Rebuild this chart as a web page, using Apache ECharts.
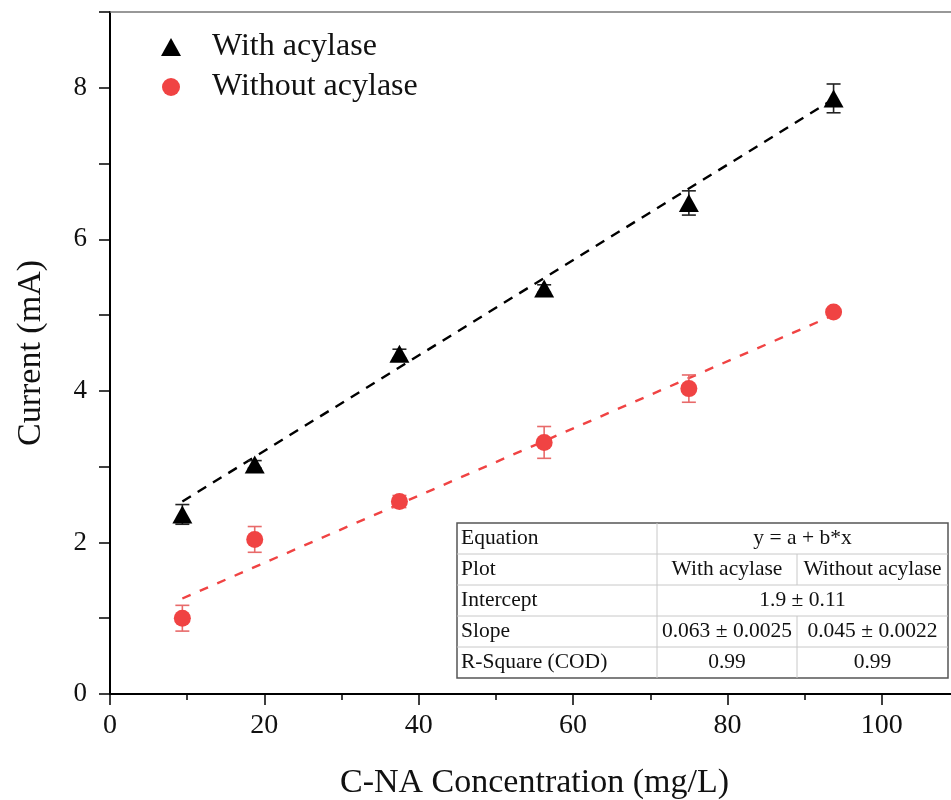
<!DOCTYPE html>
<html>
<head>
<meta charset="utf-8">
<script src="https://cdn.jsdelivr.net/npm/echarts@6/dist/echarts.min.js"></script>
<style>
  html, body { margin: 0; padding: 0; background: #fff; }
  #chart { width: 951px; height: 800px; }
</style>
</head>
<body>
<div id="chart"></div>
<script>
  // C-NA concentrations (mg/L)
  const conc = [9.375, 18.75, 37.5, 56.25, 75, 93.75];
  // current (mA) and error
  const withAcylase = [2.37, 3.03, 4.49, 5.35, 6.48, 7.86];
  const withErr = [0.13, 0.05, 0.06, 0.05, 0.16, 0.19];
  const withoutAcylase = [1.0, 2.04, 2.54, 3.32, 4.03, 5.04];
  const withoutErr = [0.17, 0.17, 0.08, 0.21, 0.18, 0.03];
  // linear fit end points
  const fitWith = [[9.375, 2.54], [93.75, 7.85]];
  const fitWithout = [[9.375, 1.26], [93.75, 5.0]];

  const tableRows = [
    ['Equation', 'y = a + b*x'],
    ['Plot', 'With acylase', 'Without acylase'],
    ['Intercept', '1.9 ± 0.11'],
    ['Slope', '0.063 ± 0.0025', '0.045 ± 0.0022'],
    ['R-Square (COD)', '0.99', '0.99']
  ];

  const serif = '"Liberation Serif", "Times New Roman", serif';
  const black = '#000';
  const red = '#f04343';

  const chart = echarts.init(document.getElementById('chart'));

  const pairs = (xs, ys) => xs.map((x, i) => [x, ys[i]]);
  const errData = (xs, ys, es) => xs.map((x, i) => [x, ys[i] - es[i], ys[i] + es[i]]);

  const errorBars = (color) => function (params, api) {
    const x = api.value(0);
    const lo = api.coord([x, api.value(1)]);
    const hi = api.coord([x, api.value(2)]);
    const w = 7;
    const style = { stroke: color, lineWidth: 1.6 };
    return {
      type: 'group',
      children: [
        { type: 'line', shape: { x1: lo[0], y1: lo[1], x2: hi[0], y2: hi[1] }, style: style },
        { type: 'line', shape: { x1: lo[0] - w, y1: lo[1], x2: lo[0] + w, y2: lo[1] }, style: style },
        { type: 'line', shape: { x1: hi[0] - w, y1: hi[1], x2: hi[0] + w, y2: hi[1] }, style: style }
      ]
    };
  };

  // table drawn as graphic elements
  const tLeft = 457, tTop = 523, tRight = 948, rowH = 31;
  const col1 = 657, col2 = 797;
  const tBottom = tTop + rowH * tableRows.length;
  const table = [];
  table.push({ type: 'rect', shape: { x: tLeft, y: tTop, width: tRight - tLeft, height: tBottom - tTop },
    style: { fill: '#fff', stroke: '#555', lineWidth: 1.5 }, z: 100 });
  for (let r = 1; r < tableRows.length; r++) {
    table.push({ type: 'line', shape: { x1: tLeft, y1: tTop + r * rowH, x2: tRight, y2: tTop + r * rowH },
      style: { stroke: '#c8c8c8', lineWidth: 1 }, z: 101 });
  }
  table.push({ type: 'line', shape: { x1: col1, y1: tTop, x2: col1, y2: tBottom },
    style: { stroke: '#c8c8c8', lineWidth: 1 }, z: 101 });
  tableRows.forEach((row, r) => {
    const cy = tTop + r * rowH + rowH / 2;
    if (row.length === 3) {
      table.push({ type: 'line', shape: { x1: col2, y1: tTop + r * rowH, x2: col2, y2: tTop + (r + 1) * rowH },
        style: { stroke: '#c8c8c8', lineWidth: 1 }, z: 101 });
    }
    const cell = (t, x, align) => ({ type: 'text', x: x, y: cy, z: 102,
      style: { text: t, font: '21.5px ' + serif, fill: '#111', align: align, verticalAlign: 'middle' } });
    table.push(cell(row[0], tLeft + 4, 'left'));
    if (row.length === 2) {
      table.push(cell(row[1], (col1 + tRight) / 2, 'center'));
    } else {
      table.push(cell(row[1], (col1 + col2) / 2, 'center'));
      table.push(cell(row[2], (col2 + tRight) / 2, 'center'));
    }
  });

  const option = {
    animation: false,
    backgroundColor: '#fff',
    grid: { left: 110, top: 12, width: 849, bottom: 106, containLabel: false, outerBoundsMode: 'none' },
    legend: {
      data: ['With acylase', 'Without acylase'],
      orient: 'vertical',
      left: 156,
      top: 26,
      itemWidth: 20,
      itemHeight: 18,
      itemGap: 8,
      textStyle: { fontFamily: serif, fontSize: 32, color: '#111', padding: [0, 0, 0, 26] }
    },
    xAxis: [{
      type: 'value',
      min: 0,
      max: 110,
      interval: 20,
      name: 'C-NA Concentration (mg/L)',
      nameLocation: 'middle',
      nameGap: 72,
      nameTextStyle: { fontFamily: serif, fontSize: 34, color: '#111' },
      axisLine: { lineStyle: { color: black, width: 2 } },
      axisTick: { inside: false, length: 11, lineStyle: { color: black, width: 1.5 } },
      minorTick: { show: true, splitNumber: 2, length: 6, lineStyle: { color: black, width: 1.5 } },
      axisLabel: { fontFamily: serif, fontSize: 28, color: '#111', margin: 18, showMaxLabel: false },
      splitLine: { show: false }
    }, {
      type: 'value',
      position: 'top',
      min: 0,
      max: 110,
      axisLine: { show: true, lineStyle: { color: '#777', width: 1.5 } },
      axisTick: { show: false },
      axisLabel: { show: false },
      splitLine: { show: false }
    }],
    yAxis: {
      type: 'value',
      min: 0,
      max: 9,
      interval: 2,
      name: 'Current (mA)',
      nameLocation: 'middle',
      nameGap: 62,
      nameTextStyle: { fontFamily: serif, fontSize: 34, color: '#111' },
      axisLine: { show: true, lineStyle: { color: black, width: 2 } },
      axisTick: { show: true, length: 11, lineStyle: { color: black, width: 1.5 } },
      minorTick: { show: true, splitNumber: 2, length: 11, lineStyle: { color: black, width: 1.5 } },
      axisLabel: { fontFamily: serif, fontSize: 27, color: '#111', margin: 23, showMaxLabel: false },
      splitLine: { show: false }
    },
    series: [
      {
        name: 'fitWith', type: 'line', data: fitWith, showSymbol: false, silent: true,
        lineStyle: { color: black, width: 2.4, type: [10, 8] }, z: 2
      },
      {
        name: 'fitWithout', type: 'line', data: fitWithout, showSymbol: false, silent: true,
        lineStyle: { color: red, width: 2.4, type: [9, 10] }, z: 2
      },
      {
        name: 'errWith', type: 'custom', renderItem: errorBars('#222'),
        data: errData(conc, withAcylase, withErr), encode: { x: 0, y: [1, 2] }, z: 3
      },
      {
        name: 'errWithout', type: 'custom', renderItem: errorBars('#e86a6a'),
        data: errData(conc, withoutAcylase, withoutErr), encode: { x: 0, y: [1, 2] }, z: 3
      },
      {
        name: 'With acylase', type: 'scatter', data: pairs(conc, withAcylase),
        symbol: 'triangle', symbolSize: [20, 18], itemStyle: { color: black, opacity: 1 }, z: 4
      },
      {
        name: 'Without acylase', type: 'scatter', data: pairs(conc, withoutAcylase),
        symbol: 'circle', symbolSize: 17, itemStyle: { color: red, opacity: 1 }, z: 4
      }
    ],
    graphic: table
  };

  chart.setOption(option);
</script>
</body>
</html>
